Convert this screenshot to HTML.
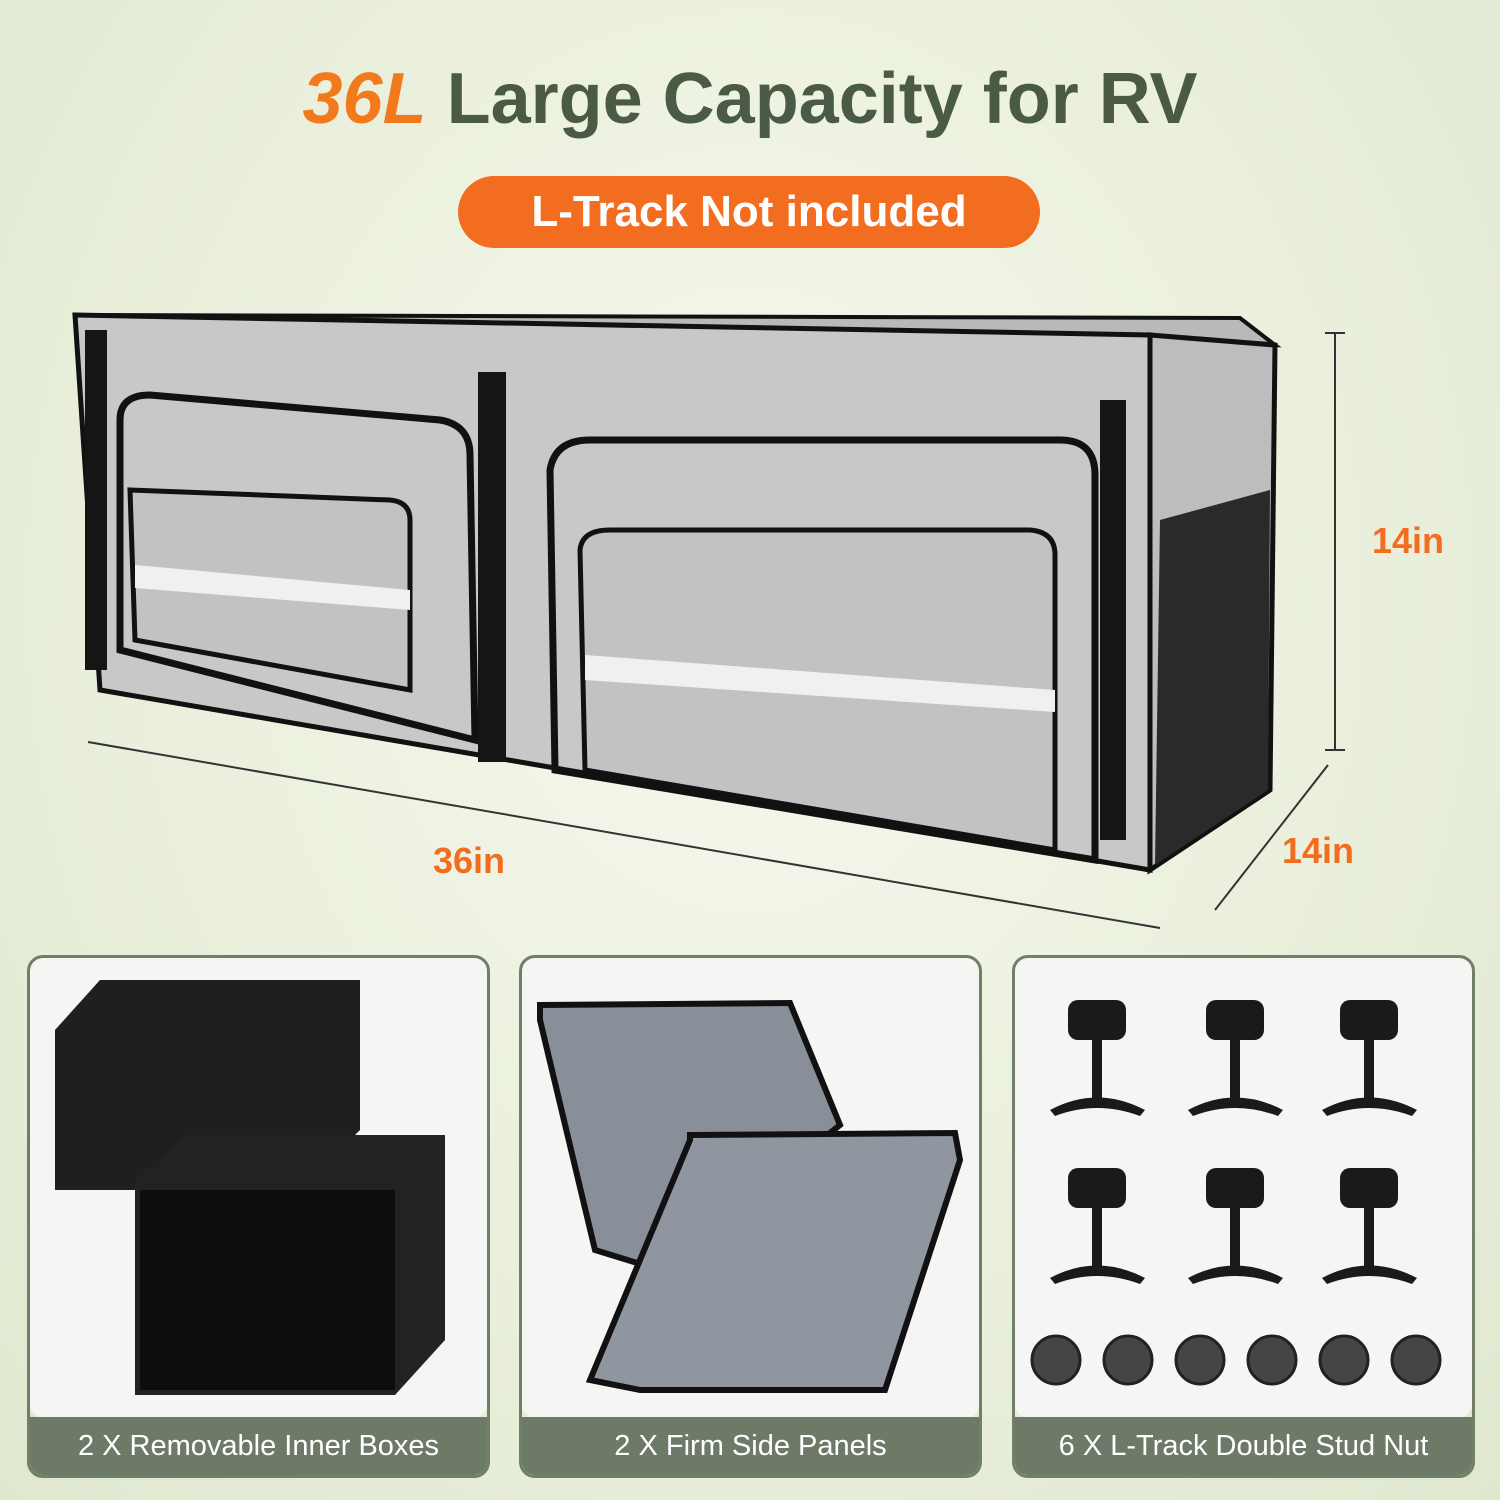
<!DOCTYPE html>
<html><head><meta charset="utf-8"><style>
body{margin:0;width:1500px;height:1500px;overflow:hidden;font-family:"Liberation Sans",sans-serif;
background:radial-gradient(ellipse at 50% 40%,#f6f8ee 0%,#e9efdb 60%,#dfe8cf 100%);position:relative}
.t{position:absolute;top:58px;left:0;width:1500px;text-align:center;font-weight:bold;font-size:72px;color:#4b5a45}
.t i{color:#f27a1d}
.pill{position:absolute;left:458px;top:176px;width:582px;height:72px;border-radius:36px;background:#f26d1f;color:#fff;font-weight:bold;font-size:44px;text-align:center;line-height:72px}
.p{position:absolute;top:955px;width:463px;height:523px;border:3px solid #6f8066;border-radius:16px;background:transparent;overflow:hidden;box-sizing:border-box}
.p .lb{position:absolute;left:0;bottom:0;width:100%;height:58px;background:#6d7a68;color:#fff;font-size:29px;text-align:center;line-height:58px}
.d{position:absolute;color:#f26d1f;font-weight:bold;font-size:36px}
</style></head><body>
<div class="t"><i>36L</i> Large Capacity for RV</div>
<div class="pill">L-Track Not included</div>
<svg width="1500" height="1500" style="position:absolute;left:0;top:0">
<rect x="30" y="958" width="457" height="460" rx="14" fill="#f5f6f3"/>
<rect x="522" y="958" width="457" height="460" rx="14" fill="#f5f6f3"/>
<rect x="1015" y="958" width="457" height="460" rx="14" fill="#f5f6f3"/>
<!-- box -->
<polygon points="75,315 1240,318 1275,345 1150,335" fill="#b9b9b9" stroke="#111" stroke-width="4"/>
<polygon points="75,315 1150,335 1150,870 100,690" fill="#c8c8c8" stroke="#111" stroke-width="5"/>
<polygon points="1150,335 1275,345 1270,790 1150,870" fill="#bdbdbd" stroke="#111" stroke-width="5"/>
<path d="M1160,520 L1270,490 L1268,790 L1155,865Z" fill="#2a2a2a"/>
<path d="M120,420 Q120,395 150,395 L440,420 Q470,425 470,455 L475,740 L120,650Z" fill="none" stroke="#111" stroke-width="7"/>
<path d="M130,490 L390,500 Q410,502 410,520 L410,690 L135,640Z" fill="#c2c2c2" stroke="#111" stroke-width="5"/>
<path d="M135,565 L410,590 L410,610 L135,588Z" fill="#f0f0f0"/>
<path d="M550,470 Q555,440 590,440 L1060,440 Q1095,440 1095,475 L1095,860 L555,770Z" fill="none" stroke="#111" stroke-width="7"/>
<path d="M580,550 Q582,530 610,530 L1030,530 Q1055,532 1055,555 L1055,850 L585,770Z" fill="#c2c2c2" stroke="#111" stroke-width="5"/>
<path d="M585,655 L1055,690 L1055,712 L585,680Z" fill="#f0f0f0"/>
<rect x="478" y="372" width="28" height="390" fill="#151515"/>
<rect x="1100" y="400" width="26" height="440" fill="#151515"/>
<rect x="85" y="330" width="22" height="340" fill="#151515"/>
<g stroke="#333" stroke-width="2">
<line x1="1335" y1="333" x2="1335" y2="750"/><line x1="1325" y1="333" x2="1345" y2="333"/><line x1="1325" y1="750" x2="1345" y2="750"/>
<line x1="88" y1="742" x2="1160" y2="928"/><line x1="1215" y1="910" x2="1328" y2="765"/>
</g>
<!-- inner boxes -->
<polygon points="55,1030 100,980 360,980 360,1130 300,1190 55,1190" fill="#1f1f1f"/>
<polygon points="135,1180 185,1135 445,1135 445,1340 395,1395 135,1395" fill="#222"/>
<rect x="140" y="1190" width="255" height="200" fill="#0d0d0d"/>
<!-- side panels -->
<polygon points="540,1005 790,1003 840,1125 660,1270 595,1250 540,1020" fill="#888f98" stroke="#111" stroke-width="6"/>
<polygon points="690,1135 955,1133 960,1160 885,1390 640,1390 590,1380 690,1140" fill="#8f96a0" stroke="#111" stroke-width="6"/>
<g fill="#1a1a1a">
<g id="s"><rect x="1068" y="1000" width="58" height="40" rx="10"/><rect x="1092" y="1040" width="10" height="60"/><path d="M1050,1110 Q1097,1085 1145,1110 L1140,1116 Q1097,1100 1055,1116Z"/></g>
<use href="#s" x="138"/><use href="#s" x="272"/>
<use href="#s" y="168"/><use href="#s" x="138" y="168"/><use href="#s" x="272" y="168"/>
</g>
<g fill="#444" stroke="#222" stroke-width="3">
<circle cx="1056" cy="1360" r="24"/><circle cx="1128" cy="1360" r="24"/><circle cx="1200" cy="1360" r="24"/><circle cx="1272" cy="1360" r="24"/><circle cx="1344" cy="1360" r="24"/><circle cx="1416" cy="1360" r="24"/>
</g>
</svg>
<div class="d" style="left:1372px;top:520px">14in</div>
<div class="d" style="left:1282px;top:830px">14in</div>
<div class="d" style="left:433px;top:840px">36in</div>
<div class="p" style="left:27px"><div class="lb">2 X Removable Inner Boxes</div></div>
<div class="p" style="left:519px"><div class="lb">2 X Firm Side Panels</div></div>
<div class="p" style="left:1012px"><div class="lb">6 X L-Track Double Stud Nut</div></div>
</body></html>
